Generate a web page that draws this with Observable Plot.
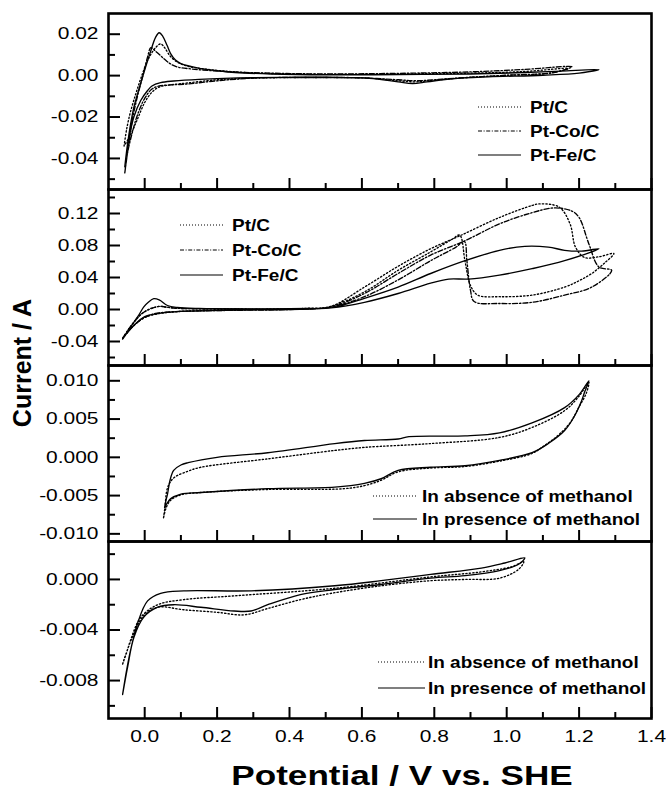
<!DOCTYPE html>
<html>
<head>
<meta charset="utf-8">
<script src="https://cdn.jsdelivr.net/npm/d3@7"></script>
<script src="https://cdn.jsdelivr.net/npm/@observablehq/plot@0.6"></script>
<style>
  html, body { margin: 0; padding: 0; background: #fff; }
  #fig { position: relative; width: 666px; height: 790px; overflow: hidden;
         font-family: "Liberation Sans", Arial, sans-serif; color: #000; }
  .panel { position: absolute; left: 0; }
  .ytitle { position: absolute; left: 22px; top: 363px; white-space: nowrap;
            transform: translate(-50%, -50%) rotate(-90deg);
            font-weight: bold; font-size: 25px; }
  .xtitle { position: absolute; left: 402px; top: 776px; white-space: nowrap;
            transform: translate(-50%, -50%) scaleX(1.3);
            font-weight: bold; font-size: 27px; }
</style>
</head>
<body>
<div id="fig">
  <div class="ytitle">Current / A</div>
  <div class="xtitle">Potential / V vs. SHE</div>
</div>
<script>
// ---- labels --------------------------------------------------------------
const catalysts = ["Pt/C", "Pt-Co/C", "Pt-Fe/C"];
const conditions = ["In absence of methanol", "In presence of methanol"];

// ---- shared potential axis ----------------------------------------------
const xDomain = [-0.1, 1.4];
const xMajor = [0, 0.2, 0.4, 0.6, 0.8, 1.0, 1.2, 1.4];
const xMinor = [0.1, 0.3, 0.5, 0.7, 0.9, 1.1, 1.3];

// ---- panel 1: voltammograms in supporting electrolyte ([E, I]) ----------
const ptC_base = [
  [-0.057,-0.034],[-0.05,-0.026],[-0.04,-0.018],[-0.025,-0.009],[-0.01,-0.001],[0.01,0.008],
  [0.03,0.0135],[0.044,0.0153],[0.055,0.0135],[0.07,0.0095],[0.09,0.0065],[0.12,0.0045],
  [0.16,0.0033],[0.22,0.0022],[0.3,0.0013],[0.5,0.0006],[0.7,0.0008],[0.9,0.0012],
  [1.05,0.002],[1.17,0.0035],
  [1.12,0.0012],[1.0,0.0001],[0.9,-0.0008],[0.8,-0.0022],[0.75,-0.003],[0.7,-0.0025],
  [0.62,-0.0012],[0.5,-0.0009],[0.3,-0.0012],[0.2,-0.002],[0.12,-0.0035],[0.07,-0.0045],
  [0.04,-0.0055],[0.02,-0.008],[0.0,-0.013],[-0.02,-0.021],[-0.04,-0.029],[-0.057,-0.034]
];
const ptCo_base = [
  [-0.055,-0.047],[-0.045,-0.034],[-0.035,-0.022],[-0.02,-0.010],[-0.005,0.0],[0.008,0.009],
  [0.017,0.0135],[0.03,0.0118],[0.053,0.0082],[0.07,0.0058],[0.09,0.0042],[0.13,0.0032],
  [0.2,0.0022],[0.3,0.0014],[0.5,0.0008],[0.7,0.0011],[0.9,0.0018],[1.05,0.003],[1.18,0.0043],
  [1.13,0.0015],[1.0,0.0002],[0.9,-0.0008],[0.8,-0.002],[0.75,-0.0025],[0.7,-0.002],
  [0.6,-0.0011],[0.45,-0.0009],[0.3,-0.0012],[0.2,-0.0025],[0.12,-0.004],[0.07,-0.0045],
  [0.04,-0.005],[0.02,-0.0065],[0.0,-0.011],[-0.02,-0.019],[-0.035,-0.028],[-0.047,-0.037],
  [-0.055,-0.047]
];
const ptFe_base = [
  [-0.055,-0.044],[-0.045,-0.030],[-0.03,-0.0154],[-0.015,-0.006],[-0.003,0.001],[0.015,0.011],
  [0.03,0.0185],[0.04,0.0207],[0.05,0.019],[0.062,0.0145],[0.072,0.0105],[0.085,0.0075],
  [0.1,0.0058],[0.13,0.0043],[0.155,0.0034],[0.2,0.0024],[0.25,0.0015],[0.35,0.0008],
  [0.5,0.0004],[0.7,0.0005],[0.9,0.0008],[1.05,0.0015],[1.15,0.0022],[1.255,0.0029],
  [1.2,0.0012],[1.1,0.0002],[0.95,-0.0006],[0.85,-0.0015],[0.78,-0.003],[0.74,-0.0038],
  [0.7,-0.003],[0.62,-0.0013],[0.5,-0.0008],[0.3,-0.001],[0.15,-0.0018],[0.08,-0.0026],
  [0.044,-0.0034],[0.02,-0.005],[0.008,-0.0072],[-0.011,-0.012],[-0.03,-0.020],
  [-0.044,-0.031],[-0.055,-0.044]
];

// ---- panel 2: methanol oxidation ----------------------------------------
const ptC_meoh = [
  [-0.061,-0.036],[-0.045,-0.025],[-0.03,-0.016],[-0.01,-0.006],[0.01,-0.0005],[0.03,0.003],
  [0.044,0.004],[0.06,0.003],[0.09,0.0015],[0.2,0.0008],[0.35,0.0006],[0.45,0.0015],
  [0.515,0.004],[0.607,0.028],[0.70,0.054],[0.79,0.076],[0.87,0.092],[0.98,0.115],
  [1.07,0.130],[1.09,0.132],[1.145,0.128],[1.175,0.107],[1.19,0.078],[1.215,0.065],
  [1.255,0.066],[1.296,0.070],
  [1.27,0.058],[1.235,0.045],[1.2,0.036],[1.16,0.028],[1.07,0.018],[0.98,0.016],[0.92,0.018],
  [0.9,0.03],[0.885,0.06],[0.87,0.093],[0.85,0.088],[0.79,0.072],[0.70,0.049],[0.607,0.022],
  [0.515,0.004],[0.45,0.001],[0.3,0.0],[0.15,-0.0015],[0.08,-0.003],[0.04,-0.005],
  [0.0,-0.01],[-0.03,-0.02],[-0.061,-0.036]
];
const ptCo_meoh = [
  [-0.061,-0.036],[-0.045,-0.025],[-0.03,-0.016],[-0.01,-0.006],[0.01,0.0],[0.03,0.003],
  [0.044,0.004],[0.06,0.003],[0.09,0.0015],[0.2,0.0008],[0.35,0.0005],[0.45,0.001],
  [0.515,0.003],[0.607,0.02],[0.70,0.045],[0.79,0.068],[0.885,0.086],[0.98,0.107],
  [1.07,0.121],[1.133,0.127],[1.18,0.123],[1.2,0.115],[1.227,0.082],[1.255,0.053],[1.29,0.049],
  [1.235,0.028],[1.16,0.018],[1.07,0.009],[0.98,0.0075],[0.91,0.010],[0.9,0.024],[0.89,0.061],
  [0.883,0.085],[0.86,0.078],[0.79,0.061],[0.70,0.037],[0.607,0.016],[0.515,0.003],[0.4,0.0],
  [0.25,-0.001],[0.12,-0.002],[0.07,-0.003],[0.03,-0.005],[0.0,-0.01],[-0.03,-0.02],
  [-0.061,-0.036]
];
const ptFe_meoh = [
  [-0.061,-0.037],[-0.045,-0.026],[-0.03,-0.016],[-0.015,-0.006],[-0.003,0.003],[0.01,0.009],
  [0.025,0.0135],[0.04,0.012],[0.063,0.005],[0.09,0.0025],[0.15,0.0012],[0.3,0.0008],
  [0.45,0.0012],[0.515,0.002],[0.607,0.014],[0.70,0.028],[0.79,0.045],[0.885,0.061],
  [0.98,0.074],[1.05,0.079],[1.115,0.078],[1.16,0.074],[1.207,0.073],[1.255,0.076],
  [1.16,0.061],[1.07,0.051],[0.98,0.043],[0.895,0.038],[0.84,0.038],[0.79,0.033],[0.70,0.020],
  [0.607,0.009],[0.515,0.002],[0.4,0.0],[0.25,-0.0007],[0.12,-0.002],[0.08,-0.003],
  [0.036,-0.005],[0.0,-0.009],[-0.03,-0.02],[-0.05,-0.03],[-0.061,-0.037]
];

// ---- panel 3: oxygen reduction, with / without methanol ------------------
const absent3 = [
  [0.052,-0.0079],[0.056,-0.0065],[0.063,-0.004],[0.08,-0.0027],[0.12,-0.0018],[0.155,-0.0013],
  [0.34,-0.0002],[0.525,0.0009],[0.607,0.0013],[0.79,0.0018],[0.98,0.0026],[1.07,0.0039],
  [1.16,0.0061],[1.2,0.008],[1.227,0.0098],
  [1.22,0.0084],[1.2,0.0066],[1.175,0.0045],[1.14,0.0028],[1.1,0.0014],[1.07,0.0005],
  [0.98,-0.0005],[0.885,-0.0012],[0.79,-0.0014],[0.70,-0.0019],[0.653,-0.003],[0.607,-0.0037],
  [0.55,-0.0041],[0.34,-0.0042],[0.155,-0.0046],[0.1,-0.0049],[0.072,-0.0056],[0.06,-0.0065],
  [0.052,-0.0079]
];
const present3 = [
  [0.055,-0.0066],[0.058,-0.0058],[0.063,-0.0048],[0.07,-0.003],[0.08,-0.0017],[0.1,-0.001],
  [0.12,-0.0007],[0.2,0.0],[0.34,0.0006],[0.525,0.0018],[0.607,0.0022],[0.70,0.0024],
  [0.73,0.0027],[0.885,0.0028],[0.98,0.0032],[1.07,0.0045],[1.16,0.0065],[1.2,0.0082],
  [1.227,0.0100],
  [1.215,0.0085],[1.207,0.0074],[1.185,0.0052],[1.16,0.0035],[1.115,0.0018],[1.07,0.0006],
  [0.98,-0.0004],[0.885,-0.0011],[0.79,-0.0013],[0.70,-0.0017],[0.653,-0.0028],[0.607,-0.0034],
  [0.525,-0.0039],[0.34,-0.0041],[0.155,-0.0046],[0.1,-0.0048],[0.072,-0.0054],[0.062,-0.006],
  [0.055,-0.0066]
];

// ---- panel 4: oxygen reduction, second catalyst --------------------------
const absent4 = [
  [-0.061,-0.0067],[-0.05,-0.0058],[-0.039,-0.0048],[-0.011,-0.003],[0.036,-0.002],
  [0.108,-0.0016],[0.247,-0.0013],[0.525,-0.0007],[0.79,0.0002],[0.93,0.0006],[1.013,0.001],
  [1.047,0.0014],
  [1.033,0.0008],[0.98,0.0001],[0.885,0.0],[0.79,-0.0001],[0.653,-0.0005],[0.515,-0.0011],
  [0.43,-0.0016],[0.34,-0.0023],[0.275,-0.0028],[0.2,-0.0026],[0.108,-0.0024],[0.036,-0.0022],
  [-0.003,-0.0029],[-0.03,-0.0043],[-0.058,-0.0064],[-0.061,-0.0067]
];
const present4 = [
  [-0.061,-0.0091],[-0.05,-0.0072],[-0.039,-0.0056],[-0.02,-0.0035],[0.008,-0.0017],
  [0.044,-0.0011],[0.108,-0.0009],[0.294,-0.0009],[0.525,-0.0005],[0.653,-0.0001],
  [0.79,0.0004],[0.93,0.0009],[0.995,0.0013],[1.05,0.0017],
  [1.033,0.0012],[0.98,0.0007],[0.885,0.0003],[0.79,0.0001],[0.653,-0.0004],[0.525,-0.0008],
  [0.43,-0.0012],[0.34,-0.002],[0.294,-0.0025],[0.247,-0.0025],[0.155,-0.0022],[0.08,-0.002],
  [0.036,-0.0022],[-0.003,-0.003],[-0.03,-0.0046],[-0.047,-0.0069],[-0.061,-0.0091]
];

// ---- current axes ---------------------------------------------------------
const y1Major = [-0.04, -0.02, 0, 0.02],            y1Minor = [-0.05, -0.03, -0.01, 0.01];
const y2Major = [-0.04, 0, 0.04, 0.08, 0.12],       y2Minor = [-0.06, -0.02, 0.02, 0.06, 0.10, 0.14];
const y3Major = [-0.01, -0.005, 0, 0.005, 0.01],    y3Minor = [-0.0075, -0.0025, 0.0025, 0.0075];
const y4Major = [-0.008, -0.004, 0],                y4Minor = [-0.010, -0.006, -0.002, 0.002];

// ---- drawing --------------------------------------------------------------
const DOTTED = "1.3,2.2", DASHDOT = "5,2,1.4,2", SOLID = null;
const ML = 108, MR = 15, WIDTH = 666, PAD = 6;
const FRAME_W = WIDTH - ML - MR;
const SVGNS = "http://www.w3.org/2000/svg";
const fig = document.getElementById("fig");

// widen each text horizontally about its anchor point, wrapping it in a group
function widen(nodes, k, anchor) {
  nodes.forEach(t => {
    const g = document.createElementNS(SVGNS, "g");
    t.parentNode.insertBefore(g, t);
    g.appendChild(t);
    const b = g.getBBox();
    const ax = anchor === "end" ? b.x + b.width : anchor === "middle" ? b.x + b.width / 2 : b.x;
    g.setAttribute("transform", `translate(${ax},0) scale(${k},1) translate(${-ax},0)`);
  });
}

function panel({top, h, yDomain, yMajor, yMinor, digits, series, legend, xLabels = false}) {
  const bottom = xLabels ? 60 : PAD;
  const marks = [
    ...series.map(s => Plot.line(s.data, {
      x: d => d[0], y: d => d[1], curve: "catmull-rom",
      stroke: "black", strokeWidth: 1.35, strokeDasharray: s.dash
    })),
    Plot.tickY(yMajor, {y: d => d, insetRight: FRAME_W - 12, strokeWidth: 2}),
    Plot.tickY(yMinor, {y: d => d, insetRight: FRAME_W - 7, strokeWidth: 2}),
    Plot.tickX(xMajor, {x: d => d, insetTop: h - 11, strokeWidth: 2}),
    Plot.tickX(xMinor, {x: d => d, insetTop: h - 6, strokeWidth: 2}),
    Plot.axisY({ticks: yMajor, tickSize: 0, tickPadding: 10, tickFormat: d => d.toFixed(digits)}),
    Plot.frame({strokeWidth: 2.6})
  ];
  if (xLabels) marks.push(Plot.axisX({ticks: xMajor, tickSize: 0, tickPadding: 12, tickFormat: d => d.toFixed(1)}));

  const svg = Plot.plot({
    width: WIDTH, height: PAD + h + bottom,
    marginLeft: ML, marginRight: MR, marginTop: PAD, marginBottom: bottom,
    x: {domain: xDomain, axis: null},
    y: {domain: yDomain, axis: null},
    style: {background: "transparent", fontFamily: "'Liberation Sans', Arial, sans-serif",
            fontSize: "16.5px", color: "black", overflow: "visible"},
    marks
  });
  svg.classList.add("panel");
  svg.style.top = `${top - PAD}px`;
  fig.appendChild(svg);

  widen(svg.querySelectorAll('g[aria-label="y-axis tick label"] text'), 1.27, "end");
  widen(svg.querySelectorAll('g[aria-label="x-axis tick label"] text'), 1.27, "middle");

  // legend: sample line + label for each series
  const g = d3.select(svg).append("g");
  series.forEach((s, i) => {
    const y = PAD + legend.y0 + i * legend.dy;
    g.append("line")
      .attr("x1", legend.x0).attr("x2", legend.x1).attr("y1", y).attr("y2", y)
      .attr("stroke", "black").attr("stroke-width", 1.2)
      .attr("stroke-dasharray", s.dash ? (s.dash === DOTTED ? "1,2" : "4,1.6,1,1.6") : null);
    g.append("text")
      .attr("transform", `translate(${legend.tx},${y}) scale(1.15,1)`)
      .attr("text-anchor", "start")
      .attr("dy", "0.36em")
      .attr("font-weight", "bold").attr("font-size", 16.5)
      .attr("fill", "black")
      .text(s.label);
  });
}

panel({
  top: 13, h: 176, yDomain: [-0.055, 0.03], yMajor: y1Major, yMinor: y1Minor, digits: 2,
  series: [
    {data: ptC_base, dash: DOTTED, label: catalysts[0]},
    {data: ptCo_base, dash: DASHDOT, label: catalysts[1]},
    {data: ptFe_base, dash: SOLID, label: catalysts[2]}
  ],
  legend: {x0: 478, x1: 521, tx: 530, y0: 94, dy: 24}
});
panel({
  top: 189, h: 176, yDomain: [-0.07, 0.15], yMajor: y2Major, yMinor: y2Minor, digits: 2,
  series: [
    {data: ptC_meoh, dash: DOTTED, label: catalysts[0]},
    {data: ptCo_meoh, dash: DASHDOT, label: catalysts[1]},
    {data: ptFe_meoh, dash: SOLID, label: catalysts[2]}
  ],
  legend: {x0: 180, x1: 223, tx: 232, y0: 36, dy: 25}
});
panel({
  top: 365, h: 176, yDomain: [-0.011, 0.012], yMajor: y3Major, yMinor: y3Minor, digits: 3,
  series: [
    {data: absent3, dash: DOTTED, label: conditions[0]},
    {data: present3, dash: SOLID, label: conditions[1]}
  ],
  legend: {x0: 373, x1: 417, tx: 422, y0: 131, dy: 23}
});
panel({
  top: 541, h: 177, yDomain: [-0.011, 0.003], yMajor: y4Major, yMinor: y4Minor, digits: 3,
  series: [
    {data: absent4, dash: DOTTED, label: conditions[0]},
    {data: present4, dash: SOLID, label: conditions[1]}
  ],
  legend: {x0: 378, x1: 425, tx: 428, y0: 121, dy: 26},
  xLabels: true
});
</script>
</body>
</html>
